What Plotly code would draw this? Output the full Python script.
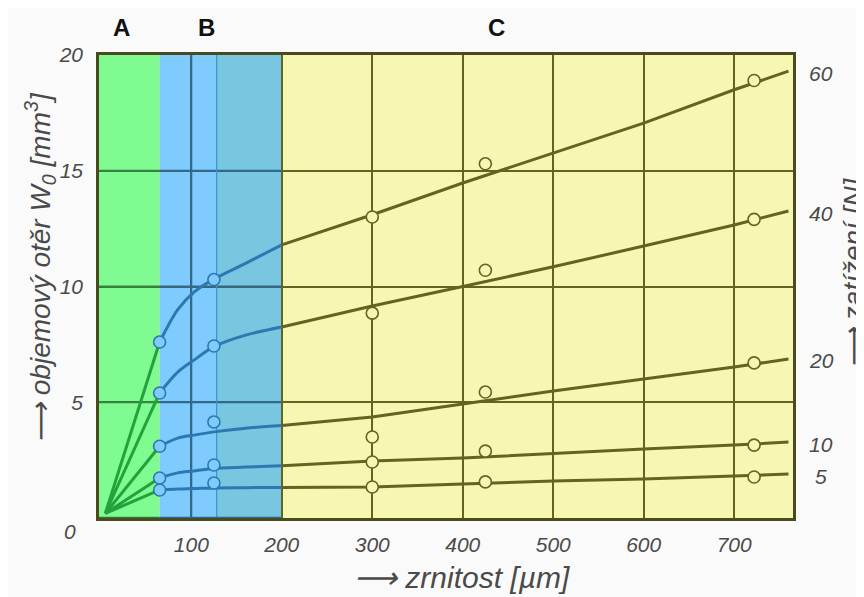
import plotly.graph_objects as go

# ---------------- data ----------------
loads = ["60", "40", "20", "10", "5"]

origin_x = 5
origin_y = 0.2

# measured points (open circles)
point_x = [65, 125, 300, 425, 722]
pts_60 = [7.6, 10.3, 13.0, 15.3, 18.9]
pts_40 = [5.4, 7.43, 8.85, 10.7, 12.9]
pts_20 = [3.1, 4.15, 3.5, 5.44, 6.7]
pts_10 = [1.73, 2.29, 2.42, 2.89, 3.15]
pts_5 = [1.21, 1.51, 1.34, 1.56, 1.77]

# fitted curves, blue zone (B)
curve_x_b = [65, 85, 103, 125, 160, 200]
cb_60 = [7.6, 9.0, 9.76, 10.32, 11.0, 11.8]
cb_40 = [5.4, 6.3, 6.82, 7.4, 7.9, 8.25]
cb_20 = [3.1, 3.45, 3.58, 3.72, 3.88, 4.0]
cb_10 = [1.73, 1.95, 2.03, 2.14, 2.2, 2.26]
cb_5 = [1.21, 1.25, 1.27, 1.3, 1.31, 1.32]

# fitted curves, yellow zone (C)
curve_x_c = [200, 300, 400, 500, 600, 700, 760]
cc_60 = [11.8, 13.1, 14.47, 15.77, 17.06, 18.5, 19.3]
cc_40 = [8.25, 9.16, 10.0, 10.85, 11.75, 12.66, 13.26]
cc_20 = [4.0, 4.36, 4.92, 5.49, 6.0, 6.52, 6.87]
cc_10 = [2.26, 2.46, 2.59, 2.8, 2.98, 3.15, 3.28]
cc_5 = [1.32, 1.34, 1.47, 1.6, 1.68, 1.81, 1.9]

# zone edges along x
zone_a = [-2, 65]
zone_b1 = [65, 128]
zone_b2 = [128, 200]
zone_c = [200, 765]

x_ticks = [100, 200, 300, 400, 500, 600, 700]
y_ticks = [5, 10, 15, 20]

# ---------------- styling ----------------
GREEN_BG = "#80fb92"
BLUE_BG = "#80cbfd"
TEAL_BG = "#78c6e0"
YELLOW_BG = "#f6f8b2"
OLIVE = "#65631f"
BLUE_LINE = "#2c78b2"
GREEN_LINE = "#23a23c"
TXT = "#4a4a4a"
FONT = "Liberation Sans"

W, H = 864, 597
OFF = 8                       # page offset of the figure inside the browser
PL, PR, PT, PB = 99, 793, 55, 518   # wanted plot-area edges on screen
L, T = PL - OFF, PT - OFF
R, B = W - PR + OFF, H - PB + OFF
pw, ph = PR - PL, PB - PT


def px_to_paper(sx, sy):
    return (sx - PL) / pw, (PB - sy) / ph


points = [pts_60, pts_40, pts_20, pts_10, pts_5]
cbs = [cb_60, cb_40, cb_20, cb_10, cb_5]
ccs = [cc_60, cc_40, cc_20, cc_10, cc_5]

fig = go.Figure()

for lab, cb, cc in zip(loads, cbs, ccs):
    fig.add_trace(go.Scatter(x=[origin_x, curve_x_b[0]], y=[origin_y, cb[0]],
                             mode="lines", line=dict(color=GREEN_LINE, width=3),
                             hoverinfo="skip", showlegend=False))
    fig.add_trace(go.Scatter(x=curve_x_b, y=cb, mode="lines",
                             line=dict(color=BLUE_LINE, width=3, shape="spline", smoothing=0.9),
                             hoverinfo="skip", showlegend=False))
    fig.add_trace(go.Scatter(x=curve_x_c, y=cc, mode="lines",
                             line=dict(color=OLIVE, width=3),
                             hoverinfo="skip", showlegend=False))

fill_cols = [BLUE_BG if x < 200 else YELLOW_BG for x in point_x]
edge_cols = [BLUE_LINE if x < 200 else OLIVE for x in point_x]
for lab, pts in zip(loads, points):
    fig.add_trace(go.Scatter(x=point_x, y=pts, mode="markers", name=lab + " N",
                             marker=dict(symbol="circle", size=12, color=fill_cols,
                                         line=dict(color=edge_cols, width=1.6)),
                             showlegend=False))

shapes = []
for (x0, x1), col in [(zone_a, GREEN_BG), (zone_b1, BLUE_BG), (zone_b2, TEAL_BG), (zone_c, YELLOW_BG)]:
    shapes.append(dict(type="rect", xref="x", yref="y", x0=x0, x1=x1, y0=0, y1=20,
                       fillcolor=col, line=dict(width=0), layer="below"))
for yv in y_ticks[:-1]:
    shapes.append(dict(type="line", xref="x", yref="y", x0=zone_a[0], x1=zone_a[1], y0=yv, y1=yv,
                       line=dict(color="#2c8a44", width=2), layer="between"))
    shapes.append(dict(type="line", xref="x", yref="y", x0=zone_b1[0], x1=zone_b2[1], y0=yv, y1=yv,
                       line=dict(color="#2a6a98", width=2), layer="between"))
shapes.append(dict(type="line", xref="x", yref="y", x0=100, x1=100, y0=0, y1=20,
                   line=dict(color="#2a6a98", width=2), layer="between"))
shapes.append(dict(type="line", xref="x", yref="y", x0=zone_b2[0], x1=zone_b2[0], y0=0, y1=20,
                   line=dict(color="#3e93c8", width=1.2), layer="between"))
shapes.append(dict(type="line", xref="x", yref="y", x0=zone_a[0], x1=zone_a[1], y0=0, y1=0,
                   line=dict(color="#2a7a3a", width=2.5), layer="above"))
shapes.append(dict(type="line", xref="x", yref="y", x0=zone_b1[0], x1=zone_b2[1], y0=0, y1=0,
                   line=dict(color="#2a6a98", width=2.5), layer="above"))

ann = []
# A B C zone labels
for txt, sx in [("A", 121), ("B", 206), ("C", 497)]:
    ax, ay = px_to_paper(sx, 28)
    ann.append(dict(text="<b>" + txt + "</b>", x=ax, y=ay, xref="paper", yref="paper",
                    xanchor="center", yanchor="middle", showarrow=False,
                    font=dict(family=FONT, size=24, color="#111")))
# load labels on the right
for lab, cc in zip(loads, ccs):
    ann.append(dict(text=lab, x=1, xref="paper", xanchor="center", xshift=28, y=cc[-1], yref="y",
                    yanchor="middle", yshift=-2, showarrow=False,
                    font=dict(family=FONT, size=21, color=TXT, style="italic")))
# the "0" corner label
ann.append(dict(text="0", x=0, xref="paper", xanchor="center", xshift=-29, y=0, yref="y",
                yanchor="middle", yshift=-13, showarrow=False,
                font=dict(family=FONT, size=21, color=TXT, style="italic")))
# axis titles
for text, sx, sy, ang, size in [
        ("⟶ objemový otěr W<sub>0</sub> [mm<sup>3</sup>]", 40, 268, -90, 28),
        ("⟶ zatížení [N]", 853, 273, -90, 28),
        ("⟶ zrnitost [µm]", 462, 577, 0, 30)]:
    ax, ay = px_to_paper(sx, sy)
    ann.append(dict(text=text, x=ax, y=ay, xref="paper", yref="paper", textangle=ang,
                    xanchor="center", yanchor="middle", showarrow=False,
                    font=dict(family=FONT, size=size, color=TXT, style="italic")))

fig.update_layout(
    width=W, height=H,
    margin=dict(l=L, r=R, t=T, b=B, pad=0),
    paper_bgcolor="#fafafa",
    plot_bgcolor=YELLOW_BG,
    shapes=shapes,
    annotations=ann,
    showlegend=False,
)
fig.update_xaxes(range=[-2, 765], tickvals=x_ticks, ticktext=[str(v) for v in x_ticks],
                 showgrid=True, gridcolor=OLIVE, gridwidth=2, zeroline=False,
                 showline=True, linecolor="#4a4a1c", linewidth=2.5, mirror=True,
                 ticks="", ticklabelstandoff=6,
                 tickfont=dict(family=FONT, size=21, color=TXT, style="italic"))
fig.update_yaxes(range=[0, 20], tickvals=y_ticks, ticktext=[str(v) for v in y_ticks],
                 showgrid=True, gridcolor=OLIVE, gridwidth=2, zeroline=False,
                 showline=True, linecolor="#4a4a1c", linewidth=2.5, mirror=True,
                 ticks="", ticklabelstandoff=9,
                 tickfont=dict(family=FONT, size=21, color=TXT, style="italic"))

fig.write_html("out.html")
